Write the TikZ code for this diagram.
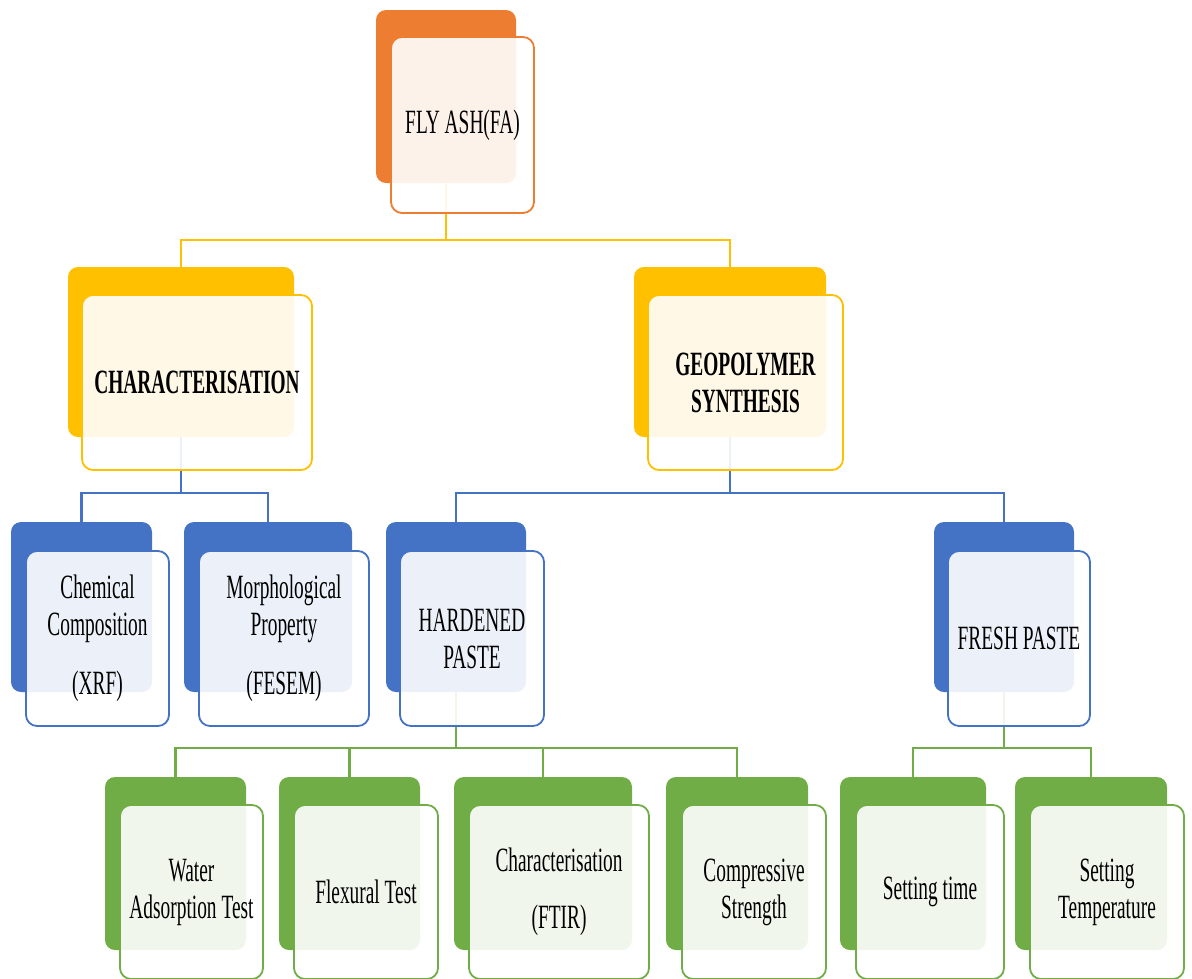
\documentclass[tikz,border=0pt]{standalone}
\usepackage{fontspec}
\setmainfont{Liberation Serif}[FakeStretch=0.57]
\definecolor{cor}{HTML}{ED7D31}
\definecolor{cgo}{HTML}{FFC000}
\definecolor{cbl}{HTML}{4472C4}
\definecolor{cgr}{HTML}{70AD47}
\begin{document}
\begin{tikzpicture}[x=1pt,y=-1pt,
  bk/.style={rectangle,draw=none,fill=#1,rounded corners=10pt,inner sep=0pt},
  ft/.style={rectangle,draw=#1,line width=1.8pt,fill=white,fill opacity=0.9,text opacity=1,
    rounded corners=11pt,inner sep=0pt,align=center,font=\fontsize{34}{37}\selectfont},
  conn/.style={draw=#1,line width=2.6pt}]
\useasboundingbox (0,0) rectangle (1192,978);
\clip (0,0) rectangle (1192,978);
% junction coordinates
\coordinate (jA) at (446,240);
\coordinate (jB) at (181,493);
\coordinate (jC) at (730,493);
\coordinate (jD) at (456,748);
\coordinate (jE) at (1004,748);
% back boxes
\node[bk=cor,minimum width=140,minimum height=173] (bFA) at (446,96.5) {};
\node[bk=cgo,minimum width=226,minimum height=170] (bCH) at (181,352) {};
\node[bk=cgo,minimum width=192,minimum height=170] (bGE) at (730,352) {};
\node[bk=cbl,minimum width=141,minimum height=170] (bCC) at (81.5,607) {};
\node[bk=cbl,minimum width=168,minimum height=170] (bMP) at (268,607) {};
\node[bk=cbl,minimum width=140,minimum height=170] (bHP) at (456,607) {};
\node[bk=cbl,minimum width=140,minimum height=170] (bFP) at (1004,607) {};
\node[bk=cgr,minimum width=141,minimum height=173] (bWA) at (175.5,863.5) {};
\node[bk=cgr,minimum width=141,minimum height=173] (bFT) at (349.5,863.5) {};
\node[bk=cgr,minimum width=178,minimum height=173] (bFI) at (543,863.5) {};
\node[bk=cgr,minimum width=142,minimum height=173] (bCS) at (737,863.5) {};
\node[bk=cgr,minimum width=146,minimum height=173] (bST) at (913,863.5) {};
\node[bk=cgr,minimum width=152,minimum height=173] (bSR) at (1091,863.5) {};
% connectors
\draw[conn=cgo] (bFA.south) -- (jA) -| (bCH.north);
\draw[conn=cgo] (jA) -| (bGE.north);
\draw[conn=cbl] (bCH.south) -- (jB) -| (bCC.north);
\draw[conn=cbl] (jB) -| (bMP.north);
\draw[conn=cbl] (bGE.south) -- (jC) -| (bHP.north);
\draw[conn=cbl] (jC) -| (bFP.north);
\draw[conn=cgr] (bHP.south) -- (jD) -| (bWA.north);
\draw[conn=cgr] (jD) -| (bFT.north);
\draw[conn=cgr] (jD) -| (bFI.north);
\draw[conn=cgr] (jD) -| (bCS.north);
\draw[conn=cgr] (bFP.south) -- (jE) -| (bST.north);
\draw[conn=cgr] (jE) -| (bSR.north);
% front boxes
\node[ft=cor,minimum width=143,minimum height=176] (fFA) at (462.5,125) {FLY ASH(FA)};
\node[ft=cgo,minimum width=230,minimum height=175] (fCH) at (197,382.5) {\bfseries CHARACTERISATION};
\node[ft=cgo,minimum width=195,minimum height=175] (fGE) at (745.5,382.5) {\bfseries GEOPOLYMER\\\bfseries SYNTHESIS};
\node[ft=cbl,minimum width=143,minimum height=175] (fCC) at (97.5,638.5) {Chemical\\Composition\\[22pt](XRF)};
\node[ft=cbl,minimum width=170,minimum height=175] (fMP) at (284,638.5) {Morphological\\Property\\[22pt](FESEM)};
\node[ft=cbl,minimum width=144,minimum height=175] (fHP) at (472,638.5) {HARDENED\\PASTE};
\node[ft=cbl,minimum width=142,minimum height=175] (fFP) at (1019,638.5) {FRESH PASTE};
\node[ft=cgr,minimum width=143,minimum height=174] (fWA) at (191.5,892) {Water\\Adsorption Test};
\node[ft=cgr,minimum width=144,minimum height=174] (fFT) at (366,892) {Flexural Test};
\node[ft=cgr,minimum width=180,minimum height=174] (fFI) at (559,892) {Characterisation\\[20pt](FTIR)};
\node[ft=cgr,minimum width=144,minimum height=174] (fCS) at (754,892) {Compressive\\Strength};
\node[ft=cgr,minimum width=148,minimum height=174] (fST) at (930,892) {Setting time};
\node[ft=cgr,minimum width=154,minimum height=174] (fSR) at (1107,892) {Setting\\Temperature};
\end{tikzpicture}
\end{document}
